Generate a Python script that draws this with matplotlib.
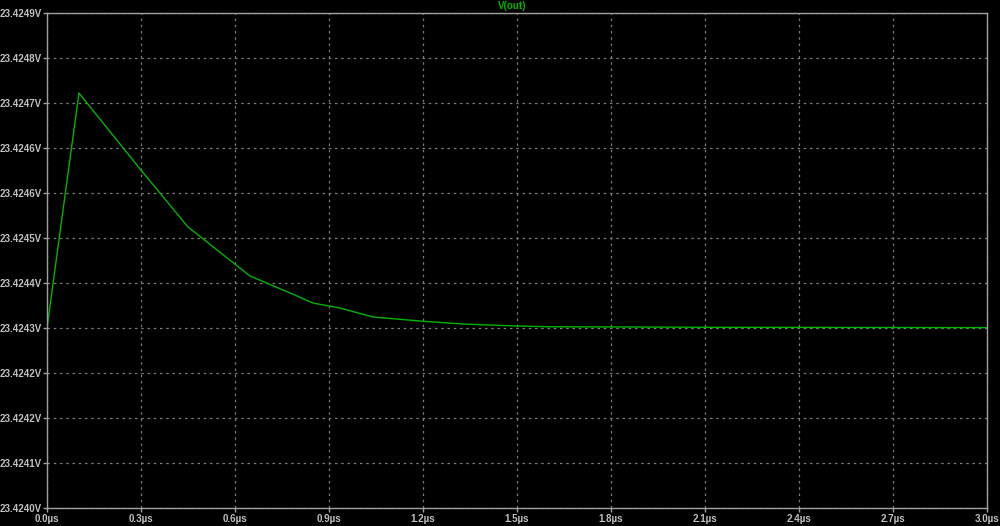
import numpy as np
import matplotlib
matplotlib.use("Agg")
import matplotlib.pyplot as plt

# V(out) transient
TIME_US = [0.0, 0.102, 0.297, 0.450, 0.648, 0.776, 0.849, 0.935, 1.040,
           1.190, 1.328, 1.500, 1.599, 2.148, 3.0]
V_OUT = [23.4243273, 23.4247545, 23.4246164, 23.4245109, 23.4244218,
         23.4243909, 23.4243727, 23.4243636, 23.4243473, 23.4243400,
         23.4243345, 23.4243309, 23.4243296, 23.4243285, 23.4243280]

Y_LABELS = ["23.4240V", "23.4241V", "23.4242V", "23.4242V", "23.4243V",
            "23.4244V", "23.4245V", "23.4246V", "23.4246V", "23.4247V",
            "23.4248V", "23.4249V"]
X_LABELS = ["0.0µs", "0.3µs", "0.6µs", "0.9µs", "1.2µs", "1.5µs",
            "1.8µs", "2.1µs", "2.4µs", "2.7µs", "3.0µs"]

Y_MIN, Y_MAX = 23.42400, 23.42490
X_MIN, X_MAX = 0.0, 3.0

plt.rcParams["font.family"] = ["Liberation Sans", "DejaVu Sans"]
plt.rcParams["font.weight"] = "bold"

fig = plt.figure(figsize=(10, 5.26), dpi=100, facecolor="black")
ax = fig.add_axes([0.047, 0.0342, 0.94, 0.9411], facecolor="black")

ax.plot(TIME_US, V_OUT, color="#00b400", linewidth=1.0)

ax.set_xlim(X_MIN, X_MAX)
ax.set_ylim(Y_MIN, Y_MAX)
ax.set_xticks(np.linspace(X_MIN, X_MAX, len(X_LABELS)))
ax.set_xticklabels(X_LABELS)
ax.set_yticks(np.linspace(Y_MIN, Y_MAX, len(Y_LABELS)))
ax.set_yticklabels(Y_LABELS)

ax.tick_params(colors="#a0a0a0", labelcolor="#c0c0c0", labelsize=7,
               length=3, width=1, pad=1)
for s in ax.spines.values():
    s.set_color("#a0a0a0")
    s.set_linewidth(1)

ax.grid(True, color="#7a7a7a", linestyle=(0, (2, 3)), linewidth=0.9)

fig.text(0.512, 0.988, "V(out)", color="#00b400", fontsize=7,
         fontweight="bold", ha="center", va="center")

fig.savefig("out.png", dpi=100, facecolor="black")
